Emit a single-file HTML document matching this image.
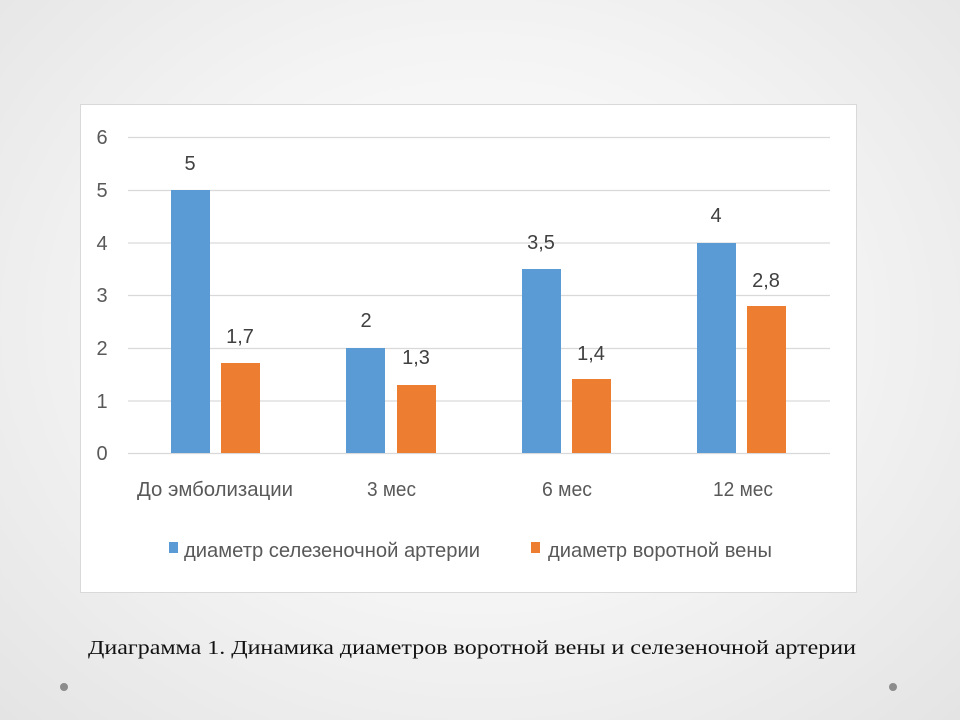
<!DOCTYPE html>
<html><head><meta charset="utf-8"><style>
html,body{margin:0;padding:0}
body{width:960px;height:720px;background:radial-gradient(ellipse at 50% 45%,#ffffff 0%,#f4f4f4 50%,#e4e4e4 100%);overflow:hidden}
</style></head><body>
<svg width="960" height="720" xmlns="http://www.w3.org/2000/svg" style="position:absolute;left:0;top:0">
<rect x="80.5" y="104.5" width="776" height="488" fill="#fff" stroke="#d9d9d9" stroke-width="1"/>
<g stroke="#d9d9d9" stroke-width="1.3">
<line x1="128" x2="830" y1="137.5" y2="137.5"/><line x1="128" x2="830" y1="190.5" y2="190.5"/>
<line x1="128" x2="830" y1="243" y2="243"/><line x1="128" x2="830" y1="295.5" y2="295.5"/>
<line x1="128" x2="830" y1="348.5" y2="348.5"/><line x1="128" x2="830" y1="401" y2="401"/>
<line x1="128" x2="830" y1="453.5" y2="453.5"/>
</g>
<g font-family="Liberation Sans, sans-serif" font-size="20" fill="#595959" text-anchor="middle">
<text x="102" y="144">6</text><text x="102" y="197">5</text><text x="102" y="250">4</text>
<text x="102" y="302">3</text><text x="102" y="355">2</text><text x="102" y="408">1</text><text x="102" y="460">0</text>
</g>
<g fill="#5b9bd5">
<rect x="171" y="190" width="39" height="263"/>
<rect x="346" y="348" width="39" height="105"/>
<rect x="522" y="269" width="39" height="184"/>
<rect x="697" y="243" width="39" height="210"/>
<rect x="169" y="542" width="9" height="11"/>
</g>
<g fill="#ed7d31">
<rect x="221" y="363" width="39" height="90"/>
<rect x="397" y="385" width="39" height="68"/>
<rect x="572" y="379" width="39" height="74"/>
<rect x="747" y="306" width="39" height="147"/>
<rect x="531" y="542" width="9" height="11"/>
</g>
<g font-family="Liberation Sans, sans-serif" font-size="20" fill="#404040" text-anchor="middle">
<text x="190" y="170">5</text><text x="240" y="343">1,7</text>
<text x="366" y="327">2</text><text x="416" y="364">1,3</text>
<text x="541" y="249">3,5</text><text x="591" y="360">1,4</text>
<text x="716" y="222">4</text><text x="766" y="287">2,8</text>
</g>
<g font-family="Liberation Sans, sans-serif" font-size="20" fill="#595959">
<text x="137" y="496" textLength="156" lengthAdjust="spacingAndGlyphs">До эмболизации</text>
<text x="367" y="496" textLength="49" lengthAdjust="spacingAndGlyphs">3 мес</text>
<text x="542" y="496" textLength="50" lengthAdjust="spacingAndGlyphs">6 мес</text>
<text x="713" y="496" textLength="60" lengthAdjust="spacingAndGlyphs">12 мес</text>
<text x="184" y="557" textLength="296" lengthAdjust="spacingAndGlyphs">диаметр селезеночной артерии</text>
<text x="548" y="557" textLength="224" lengthAdjust="spacingAndGlyphs">диаметр воротной вены</text>
</g>
<text x="88" y="654" font-family="Liberation Serif, serif" font-size="20" fill="#111" textLength="768" lengthAdjust="spacingAndGlyphs">Диаграмма 1. Динамика диаметров воротной вены и селезеночной артерии</text>
<circle cx="64" cy="687" r="4" fill="#8c8c8c"/>
<circle cx="893" cy="687" r="4" fill="#8c8c8c"/>
</svg>
</body></html>
